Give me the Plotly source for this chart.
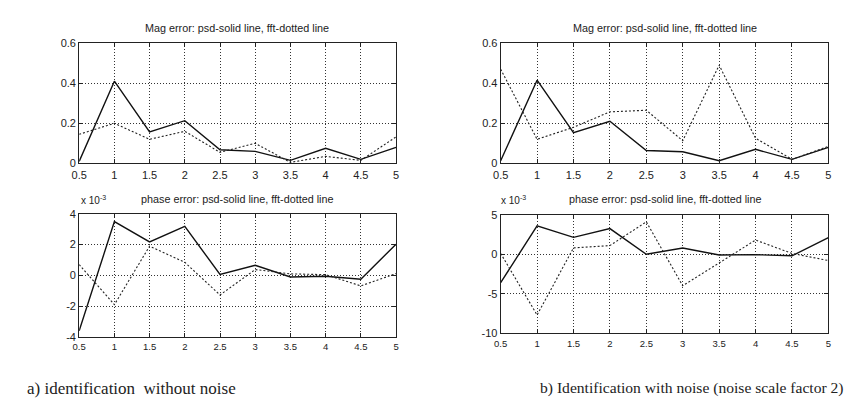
import plotly.graph_objects as go

freq = [0.5, 1, 1.5, 2, 2.5, 3, 3.5, 4, 4.5, 5]
x_tick_vals = [0.5, 1, 1.5, 2, 2.5, 3, 3.5, 4, 4.5, 5]
x_tick_text = ["0.5", "1", "1.5", "2", "2.5", "3", "3.5", "4", "4.5", "5"]

# a) identification without noise
mag_psd_a = [0.01, 0.41, 0.157, 0.213, 0.068, 0.06, 0.015, 0.075, 0.02, 0.08]
mag_fft_a = [0.145, 0.20, 0.12, 0.16, 0.055, 0.10, 0.005, 0.035, 0.015, 0.132]
# phase values in units of 1e-3
ph_psd_a = [-3.6, 3.5, 2.18, 3.19, 0.06, 0.66, -0.1, -0.05, -0.25, 2.03]
ph_fft_a = [0.7, -1.9, 1.9, 0.85, -1.27, 0.38, 0.1, 0.05, -0.68, 0.12]

# b) identification with noise
mag_psd_b = [0.013, 0.415, 0.153, 0.21, 0.064, 0.058, 0.013, 0.07, 0.02, 0.08]
mag_fft_b = [0.47, 0.12, 0.18, 0.257, 0.265, 0.113, 0.49, 0.125, 0.02, 0.085]
ph_psd_b = [-3.6, 3.6, 2.14, 3.25, 0.0, 0.78, -0.1, -0.05, -0.2, 2.1]
ph_fft_b = [0.1, -7.7, 0.8, 1.1, 4.1, -4.0, -1.1, 1.8, 0.1, -0.8]

mag_ticks = [0, 0.2, 0.4, 0.6]
mag_tick_text = ["0", "0.2", "0.4", "0.6"]
ph_ticks_a = [-4, -2, 0, 2, 4]
ph_ticks_b = [-10, -5, 0, 5]

title_mag = "Mag error: psd-solid line, fft-dotted line"
title_ph = "phase error: psd-solid line, fft-dotted line"
caption_a = "a) identification&nbsp; without noise"
caption_b = "b) Identification with noise (noise scale factor 2)"

W, H = 853, 400
def px(x):
    return x / W
def py(y):
    return 1 - y / H

fig = go.Figure()

panels = [
    ("", (64, 385), (30, 154), mag_psd_a, mag_fft_a, [0, 0.6], mag_ticks, mag_tick_text, 11, 1),
    ("2", (64, 385), (206, 333), ph_psd_a, ph_fft_a, [-4, 4], ph_ticks_a, [str(v) for v in ph_ticks_a], 9.5, 1),
    ("3", (491, 823), (30, 154), mag_psd_b, mag_fft_b, [0, 0.6], mag_ticks, mag_tick_text, 11, 1),
    ("4", (491, 823), (207, 329), ph_psd_b, ph_fft_b, [-10, 5], ph_ticks_b, [str(v) for v in ph_ticks_b], 9.5, 1),
]

ink = "#222222"
layout = {}
for suf, (x0, x1), (yt, yb), psd, fft, yr, yt_vals, yt_text, xfs, stand in panels:
    xa = "x" + suf
    ya = "y" + suf
    fig.add_trace(go.Scatter(x=freq, y=psd, mode="lines", xaxis=xa, yaxis=ya,
                             line=dict(color="#111111", width=1.4), showlegend=False))
    fig.add_trace(go.Scatter(x=freq, y=fft, mode="lines", xaxis=xa, yaxis=ya,
                             line=dict(color="#222222", width=1.1, dash="2px,2px"), showlegend=False))
    common = dict(showline=True, linecolor=ink, linewidth=1, mirror="ticks",
                  ticks="inside", ticklen=4, tickcolor=ink,
                  showgrid=True, gridcolor="#333333", griddash="1px,2px", gridwidth=1,
                  zeroline=False, tickfont=dict(family="Liberation Sans", size=11, color=ink))
    layout["xaxis" + suf] = dict(common, domain=[px(x0), px(x1)], range=[0.5, 5],
                                 anchor=ya, tickmode="array", tickvals=x_tick_vals,
                                 ticktext=x_tick_text, ticklabelstandoff=stand,
                                 tickfont=dict(family="Liberation Sans", size=xfs, color=ink))
    layout["yaxis" + suf] = dict(common, domain=[py(yb), py(yt)], range=yr,
                                 anchor=xa, tickmode="array", tickvals=yt_vals,
                                 ticktext=yt_text)

fig.update_layout(**layout)

ann = []
def txt(x, y, s, size=9, xanchor="center", family="Liberation Sans"):
    ann.append(dict(x=px(x), y=py(y), xref="paper", yref="paper", text=s, showarrow=False,
                    xanchor=xanchor, yanchor="middle",
                    font=dict(family=family, size=size, color=ink)))

txt(224, 14, title_mag, size=10.8)
txt(224, 191, title_ph, size=10.8)
txt(657, 14, title_mag, size=10.8)
txt(657, 191, title_ph, size=10.8)
txt(64, 192, "x 10<sup>-3</sup>", size=10, xanchor="left")
txt(489, 192, "x 10<sup>-3</sup>", size=10, xanchor="left")
txt(9, 386, caption_a, size=17, xanchor="left", family="Liberation Serif")
txt(529, 386, caption_b, size=15.6, xanchor="left", family="Liberation Serif")

fig.update_layout(annotations=ann, width=W, height=H,
                  margin=dict(l=0, r=0, t=0, b=0),
                  paper_bgcolor="white", plot_bgcolor="white")

fig.write_html("out.html")
